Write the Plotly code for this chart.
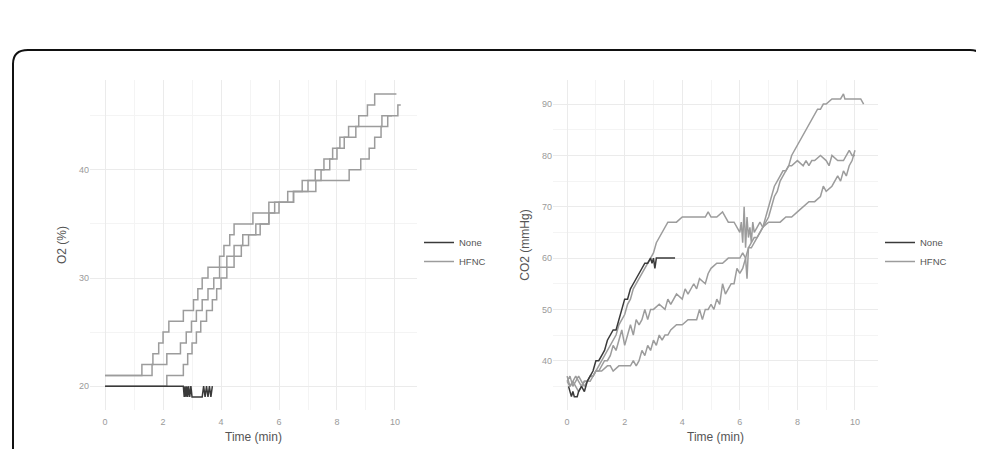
import plotly.graph_objects as go

# ---------------- O2 data (step series) ----------------
o2_hfnc_a_t = [0, 1.27, 1.65, 1.85, 2.0, 2.2, 2.7, 3.05, 3.2, 3.35, 3.55, 3.95, 4.1, 4.3, 4.45,
               5.1, 5.65, 6.3, 6.8, 7.25, 7.55, 7.85, 8.1, 8.4, 8.75, 9.05, 9.3, 10.05]
o2_hfnc_a_v = [21, 22, 23, 24, 25, 26, 27, 28, 29, 30, 31, 32, 33, 34, 35,
               36, 37, 38, 39, 40, 41, 42, 43, 44, 45, 46, 47, 47]

o2_hfnc_b_t = [0, 1.62, 2.13, 2.6, 2.8, 2.98, 3.15, 3.35, 3.55, 3.75, 3.95, 4.2, 4.45, 4.75,
               5.2, 5.65, 5.85, 6.5, 7.0, 7.45, 7.75, 8.0, 8.25, 8.65, 9.55, 9.9]
o2_hfnc_b_v = [21, 22, 23, 24, 25, 26, 27, 28, 29, 30, 31, 32, 33, 34,
               35, 36, 37, 38, 39, 40, 41, 42, 43, 44, 45, 45]

o2_hfnc_c_t = [0, 2.13, 2.7, 2.85, 3.0, 3.15, 3.3, 3.5, 3.7, 3.85, 4.0, 4.2, 4.45, 4.7, 4.95,
               5.35, 5.65, 6.0, 6.5, 7.27, 8.42, 8.82, 9.11, 9.3, 9.52, 9.75, 10.1, 10.2]
o2_hfnc_c_v = [20, 21, 22, 23, 24, 25, 26, 27, 28, 29, 30, 31, 32, 33, 34,
               35, 36, 37, 38, 39, 40, 41, 42, 43, 44, 45, 46, 46]

o2_none_t = [0, 2.7, 2.73, 2.76, 2.79, 2.82, 2.85, 2.88, 2.92, 2.96, 3.0, 3.05, 3.35, 3.4,
             3.45, 3.5, 3.55, 3.6, 3.65, 3.7]
o2_none_v = [20, 20, 19, 20, 19, 20, 19, 20, 19, 20, 19, 19, 19, 20,
             19, 20, 19, 20, 19, 20]

# ---------------- CO2 data ----------------
co2_none_t = [0.05, 0.1, 0.15, 0.2, 0.25, 0.3, 0.35, 0.4, 0.5, 0.6, 0.7, 0.8, 0.9, 1.0, 1.1,
              1.2, 1.3, 1.4, 1.5, 1.6, 1.7, 1.8, 1.9, 2.0, 2.1, 2.2, 2.3, 2.4, 2.5, 2.6,
              2.7, 2.8, 2.9, 2.95, 3.0, 3.05, 3.1, 3.2, 3.4, 3.6, 3.75]
co2_none_v = [35, 34, 33, 34, 33, 33, 33, 34, 35, 34, 36, 37, 38, 40, 40,
              41, 42, 44, 45, 46, 46, 48, 50, 52, 52, 54, 55, 56, 57, 58,
              59, 59, 60, 59, 60, 58, 60, 60, 60, 60, 60]

co2_hfnc_1_t = [0, 0.1, 0.2, 0.3, 0.4, 0.5, 0.6, 0.7, 0.8, 0.9, 1.0, 1.1, 1.2, 1.3, 1.4, 1.5,
                1.6, 1.7, 1.8, 1.9, 2.0, 2.1, 2.2, 2.3, 2.4, 2.5, 2.6, 2.7, 2.8, 2.9, 3.0,
                3.1, 3.2, 3.3, 3.4, 3.5, 3.6, 3.8, 4.0, 4.2, 4.4, 4.6, 4.8, 4.9, 5.0, 5.2,
                5.4, 5.5, 5.6, 5.8, 5.9, 6.0, 6.05, 6.1, 6.15, 6.2, 6.25, 6.3, 6.35, 6.4,
                6.45, 6.5, 6.6, 6.7, 6.8, 6.9, 7.0, 7.1, 7.2, 7.3, 7.4, 7.5, 7.6, 7.7, 7.8,
                7.9, 8.0, 8.1, 8.2, 8.3, 8.4, 8.5, 8.6, 8.7, 8.8, 8.9, 9.0, 9.2, 9.4, 9.5,
                9.6, 9.65, 9.7, 9.8, 10.0, 10.2, 10.3]
co2_hfnc_1_v = [37, 35, 36, 35, 34, 35, 36, 36, 37, 37, 38, 39, 40, 41, 42, 43,
                44, 45, 47, 48, 49, 51, 52, 54, 55, 56, 57, 58, 59, 60, 61,
                63, 64, 65, 66, 67, 67, 67, 68, 68, 68, 68, 68, 69, 68, 68,
                69, 68, 67, 67, 66, 65, 67, 63, 70, 62, 68, 64, 66, 63,
                67, 65, 66, 67, 66, 67, 68, 70, 72, 73, 75, 76, 77, 78, 80,
                81, 82, 83, 84, 85, 86, 87, 88, 89, 89, 90, 90, 91, 91, 91,
                92, 91, 91, 91, 91, 91, 90]

co2_hfnc_2_t = [0, 0.1, 0.2, 0.3, 0.4, 0.5, 0.6, 0.7, 0.8, 0.9, 1.0, 1.1, 1.2, 1.3, 1.4, 1.5,
                1.6, 1.7, 1.8, 1.9, 2.0, 2.1, 2.2, 2.3, 2.4, 2.5, 2.6, 2.7, 2.8, 2.9, 3.0,
                3.2, 3.4, 3.5, 3.6, 3.8, 4.0, 4.1, 4.2, 4.4, 4.5, 4.6, 4.8, 4.9, 5.0, 5.2,
                5.4, 5.6, 5.8, 6.0, 6.1, 6.2, 6.25, 6.3, 6.4, 6.5, 6.6, 6.7, 6.8, 6.9, 7.0,
                7.1, 7.2, 7.3, 7.4, 7.5, 7.6, 7.7, 7.8, 8.0, 8.2, 8.3, 8.4, 8.5, 8.6, 8.8,
                9.0, 9.1, 9.2, 9.4, 9.6, 9.7, 9.8, 9.9, 10.0]
co2_hfnc_2_v = [36, 37, 35, 36, 37, 36, 35, 36, 36, 37, 38, 38, 39, 40, 40, 41,
                43, 42, 44, 46, 43, 45, 47, 45, 48, 47, 48, 50, 48, 50, 50,
                51, 50, 52, 51, 53, 52, 54, 53, 55, 54, 56, 55, 57, 58, 59,
                59, 60, 60, 60, 61, 60, 56, 62, 63, 64, 64, 65, 66, 68, 70,
                72, 74, 75, 76, 77, 77, 78, 78, 79, 78, 79, 78, 79, 79, 80,
                79, 78, 80, 79, 79, 80, 81, 80, 80]

co2_hfnc_3_t = [0, 0.1, 0.2, 0.3, 0.4, 0.5, 0.6, 0.7, 0.8, 0.9, 1.0, 1.2, 1.4, 1.5, 1.6, 1.8,
                2.0, 2.2, 2.3, 2.4, 2.5, 2.6, 2.7, 2.8, 2.9, 3.0, 3.1, 3.2, 3.3, 3.4, 3.5,
                3.6, 3.8, 4.0, 4.2, 4.4, 4.5, 4.6, 4.7, 4.8, 4.9, 5.0, 5.1, 5.2, 5.3, 5.4,
                5.5, 5.6, 5.7, 5.8, 5.9, 6.0, 6.1, 6.2, 6.3, 6.4, 6.5, 6.6, 6.8, 7.0, 7.2,
                7.4, 7.6, 7.8, 8.0, 8.2, 8.4, 8.6, 8.8, 8.9, 9.0, 9.2, 9.4, 9.5, 9.6, 9.7,
                9.8, 9.9, 10.0]
co2_hfnc_3_v = [36, 35, 36, 37, 36, 35, 36, 36, 37, 37, 38, 38, 39, 39, 38, 39,
                39, 39, 40, 39, 40, 42, 41, 43, 42, 44, 43, 45, 44, 45, 45,
                46, 47, 47, 48, 48, 48, 50, 48, 50, 50, 51, 50, 52, 51, 55,
                53, 54, 55, 55, 58, 57, 58, 60, 62, 62, 63, 64, 66, 67, 67,
                67, 68, 68, 69, 70, 71, 71, 72, 74, 73, 74, 76, 75, 77, 76,
                78, 79, 81]

x_ticks = [0, 2, 4, 6, 8, 10]
o2_ticks = [20, 30, 40]
co2_ticks = [40, 50, 60, 70, 80, 90]

NONE_COLOR = "#3a3a3a"
HFNC_COLOR = "#9c9c9c"
LW = 1.5

# the page body adds an 8px offset; the figure is sized/placed to compensate
OFF = 8
W, H = 984 - OFF, 449 - OFF


def px(x):
    return (x - OFF) / W


def py(y):
    return 1 - (y - OFF) / H


fig = go.Figure()

# ---- left panel ----
for i, (t, v) in enumerate([(o2_hfnc_a_t, o2_hfnc_a_v), (o2_hfnc_b_t, o2_hfnc_b_v),
                             (o2_hfnc_c_t, o2_hfnc_c_v)]):
    fig.add_trace(go.Scatter(x=t, y=v, mode="lines", line=dict(color=HFNC_COLOR, width=LW, shape="hv"),
                             name="HFNC", legendgroup="hfnc", showlegend=(i == 0), legend="legend",
                             legendrank=2, xaxis="x", yaxis="y"))
fig.add_trace(go.Scatter(x=o2_none_t, y=o2_none_v, mode="lines", line=dict(color=NONE_COLOR, width=LW),
                         name="None", legendgroup="none", showlegend=True, legend="legend",
                         legendrank=1, xaxis="x", yaxis="y"))

# ---- right panel ----
for i, (t, v) in enumerate([(co2_hfnc_1_t, co2_hfnc_1_v), (co2_hfnc_2_t, co2_hfnc_2_v),
                             (co2_hfnc_3_t, co2_hfnc_3_v)]):
    fig.add_trace(go.Scatter(x=t, y=v, mode="lines", line=dict(color=HFNC_COLOR, width=LW),
                             name="HFNC", legendgroup="hfnc2", showlegend=(i == 0), legend="legend2",
                             legendrank=2, xaxis="x2", yaxis="y2"))
fig.add_trace(go.Scatter(x=co2_none_t, y=co2_none_v, mode="lines", line=dict(color=NONE_COLOR, width=LW),
                         name="None", legendgroup="none2", showlegend=True, legend="legend2",
                         legendrank=1, xaxis="x2", yaxis="y2"))

GRID = "#ebebeb"
MINOR = "#f4f4f4"
TICKFONT = dict(family="Liberation Sans, Arial, sans-serif", size=9, color="#9a9a9a")
TITLEFONT = dict(family="Liberation Sans, Arial, sans-serif", size=12, color="#555555")

common_x = dict(tickvals=x_ticks, showgrid=True, gridcolor=GRID, gridwidth=1, zeroline=False,
                showline=False, ticks="", tickfont=TICKFONT, ticklabelstandoff=5,
                minor=dict(dtick=1, tick0=0, showgrid=True, gridcolor=MINOR, gridwidth=1),
                title=dict(text="Time (min)", font=TITLEFONT, standoff=6), automargin=False)
common_y = dict(showgrid=True, gridcolor=GRID, gridwidth=1, zeroline=False, showline=False,
                ticks="", tickfont=TICKFONT, automargin=False)

fig.update_layout(
    width=W, height=H,
    margin=dict(l=0, r=0, t=0, b=0),
    paper_bgcolor="white", plot_bgcolor="white",
    xaxis=dict(domain=[px(90), px(417)], range=[-0.52, 10.76], anchor="y", **common_x),
    yaxis=dict(domain=[py(410), py(80)], range=[17.8, 48.3], anchor="x", tickvals=o2_ticks,
               minor=dict(dtick=5, tick0=0, showgrid=True, gridcolor=MINOR, gridwidth=1),
               title=dict(text="O2 (%)", font=TITLEFONT, standoff=9), **common_y),
    xaxis2=dict(domain=[px(553), px(878)], range=[-0.49, 10.8], anchor="y2", **common_x),
    yaxis2=dict(domain=[py(410), py(80)], range=[30.4, 94.7], anchor="x2", tickvals=co2_ticks,
                minor=dict(dtick=5, tick0=0, showgrid=True, gridcolor=MINOR, gridwidth=1),
                title=dict(text="CO2 (mmHg)", font=TITLEFONT, standoff=9), **common_y),
    legend=dict(x=px(419), y=py(252), xanchor="left", yanchor="middle", bgcolor="rgba(0,0,0,0)",
                font=dict(family="Liberation Sans, Arial, sans-serif", size=9.5, color="#555555"),
                itemwidth=30, tracegroupgap=0),
    legend2=dict(x=px(880), y=py(252), xanchor="left", yanchor="middle", bgcolor="rgba(0,0,0,0)",
                 font=dict(family="Liberation Sans, Arial, sans-serif", size=9.5, color="#555555"),
                 itemwidth=30, tracegroupgap=0),
    showlegend=True,
)

# rounded frame around the figure (partially out of view)
frame = (f"M {px(13)},{py(480)} L {px(13)},{py(64)} Q {px(13)},{py(50)} {px(28)},{py(50)} "
         f"L {px(970)},{py(50)} Q {px(980)},{py(50)} {px(983)},{py(58)} L {px(983)},{py(480)}")
fig.add_shape(type="path", path=frame, xref="paper", yref="paper",
              line=dict(color="#111111", width=2), layer="above")

fig.write_html("out.html")
